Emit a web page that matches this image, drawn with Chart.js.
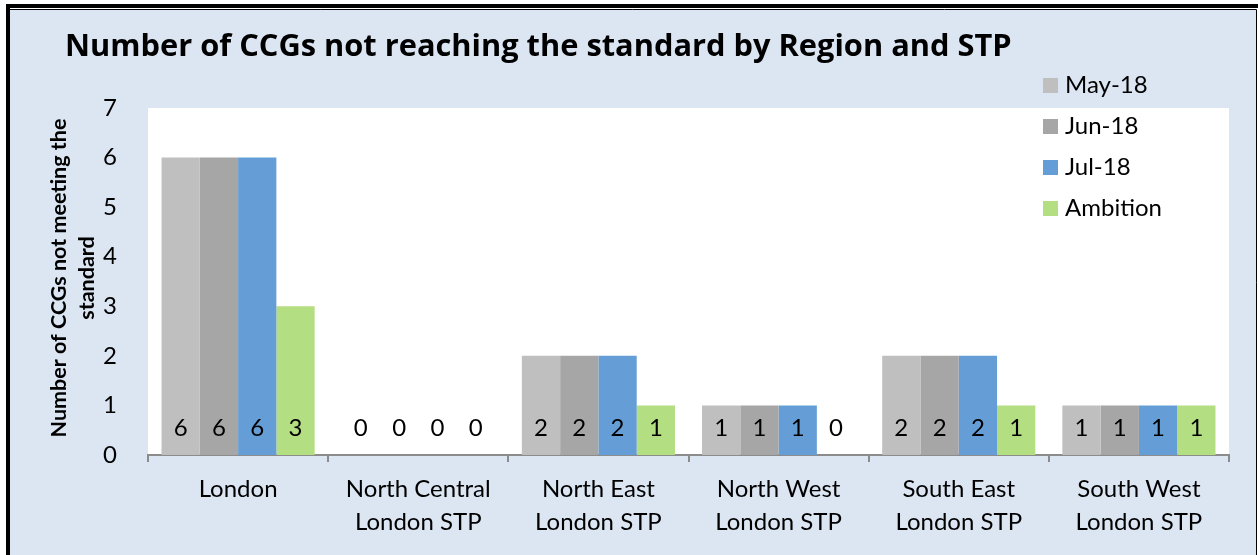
<!DOCTYPE html>
<html>
<head>
<meta charset="utf-8">
<script src="https://cdn.jsdelivr.net/npm/chart.js@4"></script>
<style>
html,body{margin:0;padding:0;background:#fff;}
#wrap{width:1259px;height:555px;position:relative;}
</style>
</head>
<body>
<div id="wrap"><canvas id="c" width="1259" height="555"></canvas></div>
<script>
const categories = [
  ["London"],
  ["North Central", "London STP"],
  ["North East", "London STP"],
  ["North West", "London STP"],
  ["South East", "London STP"],
  ["South West", "London STP"]
];
const seriesNames = ["May-18", "Jun-18", "Jul-18", "Ambition"];
const may18 = [6, 0, 2, 1, 2, 1];
const jun18 = [6, 0, 2, 1, 2, 1];
const jul18 = [6, 0, 2, 1, 2, 1];
const ambition = [3, 0, 1, 0, 1, 1];
const yTicks = [0, 1, 2, 3, 4, 5, 6, 7];
const titleText = "Number of CCGs not reaching the standard by Region and STP";
const yTitle = ["Number of CCGs not meeting the", "standard"];

const colors = ["#BFBFBF", "#A6A6A6", "#659ED6", "#B3DE82"];
const FONT = "Lato, Carlito, Calibri, sans-serif";
const TITLE_FONT = "'Open Sans', Lato, sans-serif";

const bgPlugin = {
  id: "bg",
  beforeDraw(chart) {
    const ctx = chart.ctx;
    ctx.save();
    ctx.fillStyle = "#ffffff";
    ctx.fillRect(0, 0, 1259, 555);
    ctx.fillStyle = "#DCE6F2";
    ctx.fillRect(9, 9, 1247, 546);
    ctx.fillStyle = "#000";
    ctx.fillRect(6, 4, 1252, 4);
    ctx.fillRect(6, 4, 4, 551);
    ctx.strokeStyle = "#000";
    ctx.lineWidth = 1;
    ctx.beginPath();
    ctx.moveTo(9, 9.5); ctx.lineTo(1256.5, 9.5); ctx.lineTo(1256.5, 555);
    ctx.stroke();
    const a = chart.chartArea;
    ctx.fillStyle = "#ffffff";
    ctx.fillRect(a.left, a.top, a.right - a.left, a.bottom - a.top);
    ctx.restore();
  }
};

const textPlugin = {
  id: "texts",
  afterDraw(chart) {
    const ctx = chart.ctx;
    ctx.save();
    // title, sized to span the same width as in the reference
    ctx.fillStyle = "#000";
    let size = 27;
    ctx.font = "bold " + size + "px " + TITLE_FONT;
    const w = ctx.measureText(titleText).width;
    size = Math.max(20, Math.min(36, size * 948 / w));
    ctx.font = "bold " + size.toFixed(1) + "px " + TITLE_FONT;
    ctx.textBaseline = "middle";
    ctx.textAlign = "left";
    ctx.fillText(titleText, 65, 47);
    // y axis title
    ctx.translate(73, 278);
    ctx.rotate(-Math.PI / 2);
    ctx.font = "bold 21.5px " + FONT;
    ctx.textAlign = "center";
    ctx.fillText(yTitle[0], 0, -14);
    ctx.fillText(yTitle[1], 0, 14);
    ctx.restore();
    // legend
    ctx.save();
    ctx.font = "24px " + FONT;
    ctx.textBaseline = "middle";
    ctx.textAlign = "left";
    const rows = [85, 126, 167, 208];
    chart.data.datasets.forEach((ds, i) => {
      ctx.fillStyle = ds.backgroundColor;
      ctx.fillRect(1043, rows[i] - 7, 15, 15);
      ctx.fillStyle = "#000";
      ctx.fillText(ds.label, 1065, rows[i]);
    });
    ctx.restore();
  },
  afterDatasetsDraw(chart) {
    const ctx = chart.ctx;
    const y = chart.scales.y;
    ctx.save();
    ctx.font = "24px " + FONT;
    ctx.fillStyle = "#000";
    ctx.textAlign = "center";
    ctx.textBaseline = "middle";
    chart.data.datasets.forEach((ds, i) => {
      const meta = chart.getDatasetMeta(i);
      meta.data.forEach((el, j) => {
        ctx.fillText(String(ds.data[j]), el.x, y.getPixelForValue(0) - 27);
      });
    });
    ctx.restore();
  }
};

const seriesData = [may18, jun18, jul18, ambition];

new Chart(document.getElementById("c"), {
  type: "bar",
  data: {
    labels: categories,
    datasets: seriesNames.map((n, i) => ({
      label: n,
      data: seriesData[i],
      backgroundColor: colors[i],
      borderWidth: 0,
      categoryPercentage: 0.85,
      barPercentage: 1.0
    }))
  },
  options: {
    responsive: false,
    animation: false,
    devicePixelRatio: 1,
    layout: { padding: { left: 0, top: 108, right: 30, bottom: 0 } },
    plugins: {
      legend: { display: false },
      title: { display: false },
      tooltip: { enabled: false }
    },
    scales: {
      x: {
        offset: true,
        grid: {
          offset: true,
          drawOnChartArea: false,
          drawTicks: true,
          tickLength: 7,
          color: "#8C8C8C",
          lineWidth: 2
        },
        border: { display: true, color: "#8C8C8C", width: 2 },
        ticks: {
          color: "#000",
          padding: 11,
          maxRotation: 0,
          autoSkip: false,
          font: { family: FONT, size: 24, lineHeight: 1.375 }
        },
        afterFit(scale) { scale.height = 100; }
      },
      y: {
        min: 0,
        max: 7,
        grid: { display: false },
        border: { display: false },
        ticks: {
          stepSize: 1,
          color: "#000",
          padding: 23,
          font: { family: FONT, size: 24 },
          callback: (v) => yTicks.includes(v) ? String(v) : ""
        },
        afterFit(scale) { scale.width = 148; }
      }
    }
  },
  plugins: [bgPlugin, textPlugin]
});
</script>
</body>
</html>
